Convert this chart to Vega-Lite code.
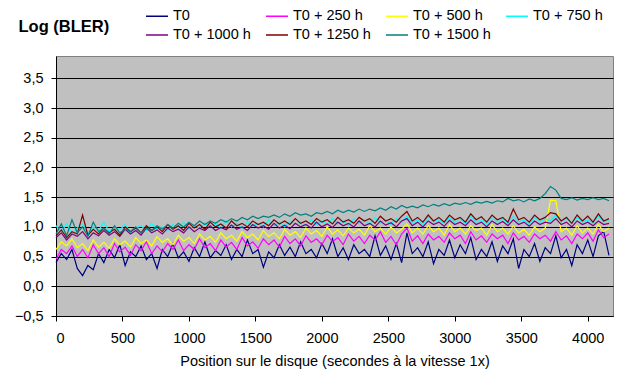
{
  "$schema": "https://vega.github.io/schema/vega-lite/v6.json",
  "width": 557,
  "height": 260,
  "autosize": "none",
  "padding": {"left": 56, "top": 56, "right": 13, "bottom": 58},
  "background": "white",
  "config": {
    "font": "Liberation Sans",
    "view": {"fill": "#C0C0C0", "stroke": "#808080", "strokeWidth": 1},
    "legend": {
      "orient": "none",
      "direction": "horizontal",
      "legendX": 89,
      "legendY": -52,
      "columns": 4,
      "gridAlign": "all",
      "symbolType": "stroke",
      "symbolSize": 484,
      "symbolStrokeWidth": 1.5,
      "labelFont": "Liberation Sans",
      "labelFontSize": 14.5,
      "labelColor": "black",
      "labelOffset": 4,
      "columnPadding": 12,
      "rowPadding": -2,
      "padding": 0
    }
  },
  "datasets": {
    "T0": [
      {"x":0,"y":0.40},{"x":40,"y":0.55},{"x":80,"y":0.45},{"x":120,"y":0.62},{"x":160,"y":0.30},{"x":200,"y":0.18},{"x":240,"y":0.35},{"x":280,"y":0.28},{"x":320,"y":0.55},{"x":360,"y":0.40},
      {"x":400,"y":0.62},{"x":440,"y":0.48},{"x":480,"y":0.70},{"x":520,"y":0.35},{"x":560,"y":0.58},{"x":600,"y":0.50},{"x":640,"y":0.68},{"x":680,"y":0.45},{"x":720,"y":0.55},{"x":760,"y":0.30},
      {"x":800,"y":0.62},{"x":840,"y":0.50},{"x":880,"y":0.72},{"x":920,"y":0.48},{"x":960,"y":0.58},{"x":1000,"y":0.42},{"x":1040,"y":0.65},{"x":1080,"y":0.50},{"x":1120,"y":0.75},{"x":1160,"y":0.48},
      {"x":1200,"y":0.60},{"x":1240,"y":0.52},{"x":1280,"y":0.70},{"x":1320,"y":0.45},{"x":1360,"y":0.62},{"x":1400,"y":0.50},{"x":1440,"y":0.78},{"x":1480,"y":0.55},{"x":1520,"y":0.62},{"x":1560,"y":0.32},
      {"x":1600,"y":0.58},{"x":1640,"y":0.48},{"x":1680,"y":0.70},{"x":1720,"y":0.52},{"x":1760,"y":0.66},{"x":1800,"y":0.50},{"x":1840,"y":0.75},{"x":1880,"y":0.55},{"x":1920,"y":0.62},{"x":1960,"y":0.48},
      {"x":2000,"y":0.72},{"x":2040,"y":0.55},{"x":2080,"y":0.80},{"x":2120,"y":0.50},{"x":2160,"y":0.65},{"x":2200,"y":0.45},{"x":2240,"y":0.70},{"x":2280,"y":0.55},{"x":2320,"y":0.62},{"x":2360,"y":0.50},
      {"x":2400,"y":0.85},{"x":2440,"y":0.52},{"x":2480,"y":0.68},{"x":2520,"y":0.45},{"x":2560,"y":0.72},{"x":2600,"y":0.40},{"x":2640,"y":0.90},{"x":2680,"y":0.55},{"x":2720,"y":0.65},{"x":2760,"y":0.50},
      {"x":2800,"y":0.75},{"x":2840,"y":0.38},{"x":2880,"y":0.62},{"x":2920,"y":0.52},{"x":2960,"y":0.78},{"x":3000,"y":0.48},{"x":3040,"y":0.70},{"x":3080,"y":0.55},{"x":3120,"y":0.82},{"x":3160,"y":0.45},
      {"x":3200,"y":0.62},{"x":3240,"y":0.50},{"x":3280,"y":0.75},{"x":3320,"y":0.42},{"x":3360,"y":0.68},{"x":3400,"y":0.55},{"x":3440,"y":0.80},{"x":3480,"y":0.30},{"x":3520,"y":0.62},{"x":3560,"y":0.50},
      {"x":3600,"y":0.72},{"x":3640,"y":0.42},{"x":3680,"y":0.65},{"x":3720,"y":0.55},{"x":3760,"y":0.85},{"x":3800,"y":0.48},{"x":3840,"y":0.62},{"x":3880,"y":0.35},{"x":3920,"y":0.70},{"x":3960,"y":0.55},
      {"x":4000,"y":0.78},{"x":4040,"y":0.50},{"x":4080,"y":0.85},{"x":4120,"y":0.92},{"x":4160,"y":0.52}
    ],
    "T250": [
      {"x":0,"y":0.45},{"x":40,"y":0.62},{"x":80,"y":0.55},{"x":120,"y":0.68},{"x":160,"y":0.50},{"x":200,"y":0.62},{"x":240,"y":0.48},{"x":280,"y":0.70},{"x":320,"y":0.55},{"x":360,"y":0.65},
      {"x":400,"y":0.50},{"x":440,"y":0.72},{"x":480,"y":0.58},{"x":520,"y":0.66},{"x":560,"y":0.52},{"x":600,"y":0.70},{"x":640,"y":0.60},{"x":680,"y":0.75},{"x":720,"y":0.55},{"x":760,"y":0.68},
      {"x":800,"y":0.58},{"x":840,"y":0.72},{"x":880,"y":0.62},{"x":920,"y":0.78},{"x":960,"y":0.60},{"x":1000,"y":0.70},{"x":1040,"y":0.62},{"x":1080,"y":0.80},{"x":1120,"y":0.65},{"x":1160,"y":0.72},
      {"x":1200,"y":0.60},{"x":1240,"y":0.78},{"x":1280,"y":0.66},{"x":1320,"y":0.74},{"x":1360,"y":0.62},{"x":1400,"y":0.82},{"x":1440,"y":0.68},{"x":1480,"y":0.75},{"x":1520,"y":0.64},{"x":1560,"y":0.80},
      {"x":1600,"y":0.70},{"x":1640,"y":0.78},{"x":1680,"y":0.66},{"x":1720,"y":0.84},{"x":1760,"y":0.72},{"x":1800,"y":0.80},{"x":1840,"y":0.68},{"x":1880,"y":0.85},{"x":1920,"y":0.74},{"x":1960,"y":0.80},
      {"x":2000,"y":0.70},{"x":2040,"y":0.86},{"x":2080,"y":0.75},{"x":2120,"y":0.82},{"x":2160,"y":0.70},{"x":2200,"y":0.88},{"x":2240,"y":0.76},{"x":2280,"y":0.84},{"x":2320,"y":0.72},{"x":2360,"y":0.86},
      {"x":2400,"y":0.78},{"x":2440,"y":0.92},{"x":2480,"y":0.74},{"x":2520,"y":0.84},{"x":2560,"y":0.70},{"x":2600,"y":0.88},{"x":2640,"y":0.98},{"x":2680,"y":0.76},{"x":2720,"y":0.85},{"x":2760,"y":0.72},
      {"x":2800,"y":0.88},{"x":2840,"y":0.78},{"x":2880,"y":0.84},{"x":2920,"y":0.74},{"x":2960,"y":0.90},{"x":3000,"y":0.80},{"x":3040,"y":0.86},{"x":3080,"y":0.72},{"x":3120,"y":0.92},{"x":3160,"y":0.78},
      {"x":3200,"y":0.85},{"x":3240,"y":0.74},{"x":3280,"y":0.88},{"x":3320,"y":0.80},{"x":3360,"y":0.86},{"x":3400,"y":0.72},{"x":3440,"y":0.90},{"x":3480,"y":0.78},{"x":3520,"y":0.84},{"x":3560,"y":0.74},
      {"x":3600,"y":0.88},{"x":3640,"y":0.80},{"x":3680,"y":0.86},{"x":3720,"y":0.76},{"x":3760,"y":0.92},{"x":3800,"y":0.78},{"x":3840,"y":0.85},{"x":3880,"y":0.72},{"x":3920,"y":0.88},{"x":3960,"y":0.80},
      {"x":4000,"y":0.90},{"x":4040,"y":0.76},{"x":4080,"y":0.95},{"x":4120,"y":0.82},{"x":4160,"y":0.88}
    ],
    "T500": [
      {"x":0,"y":0.62},{"x":40,"y":0.75},{"x":80,"y":0.68},{"x":120,"y":0.80},{"x":160,"y":0.65},{"x":200,"y":0.72},{"x":240,"y":0.60},{"x":280,"y":0.78},{"x":320,"y":0.66},{"x":360,"y":0.74},
      {"x":400,"y":0.64},{"x":440,"y":0.80},{"x":480,"y":0.70},{"x":520,"y":0.76},{"x":560,"y":0.66},{"x":600,"y":0.82},{"x":640,"y":0.72},{"x":680,"y":0.78},{"x":720,"y":0.68},{"x":760,"y":0.84},
      {"x":800,"y":0.74},{"x":840,"y":0.80},{"x":880,"y":0.70},{"x":920,"y":0.86},{"x":960,"y":0.76},{"x":1000,"y":0.82},{"x":1040,"y":0.72},{"x":1080,"y":0.88},{"x":1120,"y":0.78},{"x":1160,"y":0.84},
      {"x":1200,"y":0.74},{"x":1240,"y":0.90},{"x":1280,"y":0.80},{"x":1320,"y":0.86},{"x":1360,"y":0.76},{"x":1400,"y":0.92},{"x":1440,"y":0.82},{"x":1480,"y":0.88},{"x":1520,"y":0.78},{"x":1560,"y":0.94},
      {"x":1600,"y":0.84},{"x":1640,"y":0.90},{"x":1680,"y":0.80},{"x":1720,"y":0.96},{"x":1760,"y":0.86},{"x":1800,"y":0.92},{"x":1840,"y":0.82},{"x":1880,"y":0.98},{"x":1920,"y":0.88},{"x":1960,"y":0.94},
      {"x":2000,"y":0.84},{"x":2040,"y":1.00},{"x":2080,"y":0.88},{"x":2120,"y":0.95},{"x":2160,"y":0.85},{"x":2200,"y":0.98},{"x":2240,"y":0.90},{"x":2280,"y":0.96},{"x":2320,"y":0.86},{"x":2360,"y":1.02},
      {"x":2400,"y":0.92},{"x":2440,"y":0.98},{"x":2480,"y":0.88},{"x":2520,"y":1.00},{"x":2560,"y":0.90},{"x":2600,"y":0.96},{"x":2640,"y":1.05},{"x":2680,"y":0.90},{"x":2720,"y":0.98},{"x":2760,"y":0.88},
      {"x":2800,"y":1.02},{"x":2840,"y":0.92},{"x":2880,"y":0.98},{"x":2920,"y":0.86},{"x":2960,"y":1.04},{"x":3000,"y":0.92},{"x":3040,"y":0.98},{"x":3080,"y":0.88},{"x":3120,"y":1.02},{"x":3160,"y":0.94},
      {"x":3200,"y":0.98},{"x":3240,"y":0.86},{"x":3280,"y":1.04},{"x":3320,"y":0.92},{"x":3360,"y":0.98},{"x":3400,"y":0.88},{"x":3440,"y":1.02},{"x":3480,"y":0.90},{"x":3520,"y":0.96},{"x":3560,"y":0.86},
      {"x":3600,"y":1.00},{"x":3640,"y":0.92},{"x":3680,"y":0.98},{"x":3720,"y":1.45},{"x":3760,"y":1.44},{"x":3800,"y":0.92},{"x":3840,"y":0.98},{"x":3880,"y":0.86},{"x":3920,"y":1.02},{"x":3960,"y":0.90},
      {"x":4000,"y":0.98},{"x":4040,"y":0.88},{"x":4080,"y":1.04},{"x":4120,"y":0.92},{"x":4160,"y":0.98}
    ],
    "T750": [
      {"x":0,"y":1.02},{"x":40,"y":0.92},{"x":80,"y":1.05},{"x":120,"y":0.88},{"x":160,"y":0.98},{"x":200,"y":1.06},{"x":240,"y":0.90},{"x":280,"y":1.00},{"x":320,"y":0.94},{"x":360,"y":1.08},
      {"x":400,"y":0.92},{"x":440,"y":1.00},{"x":480,"y":0.95},{"x":520,"y":1.04},{"x":560,"y":0.90},{"x":600,"y":0.98},{"x":640,"y":1.02},{"x":680,"y":0.94},{"x":720,"y":1.06},{"x":760,"y":0.96},
      {"x":800,"y":1.00},{"x":840,"y":0.94},{"x":880,"y":1.04},{"x":920,"y":0.98},{"x":960,"y":1.08},{"x":1000,"y":0.96},{"x":1040,"y":1.02},{"x":1080,"y":0.98},{"x":1120,"y":1.06},{"x":1160,"y":1.00},
      {"x":1200,"y":1.04},{"x":1240,"y":0.98},{"x":1280,"y":1.10},{"x":1320,"y":1.00},{"x":1360,"y":1.06},{"x":1400,"y":0.98},{"x":1440,"y":1.08},{"x":1480,"y":1.02},{"x":1520,"y":1.06},{"x":1560,"y":1.00},
      {"x":1600,"y":1.12},{"x":1640,"y":1.02},{"x":1680,"y":1.08},{"x":1720,"y":1.00},{"x":1760,"y":1.10},{"x":1800,"y":1.04},{"x":1840,"y":1.08},{"x":1880,"y":1.02},{"x":1920,"y":1.12},{"x":1960,"y":1.04},
      {"x":2000,"y":1.10},{"x":2040,"y":1.04},{"x":2080,"y":1.14},{"x":2120,"y":1.06},{"x":2160,"y":1.10},{"x":2200,"y":1.02},{"x":2240,"y":1.14},{"x":2280,"y":1.06},{"x":2320,"y":1.12},{"x":2360,"y":1.04},
      {"x":2400,"y":1.16},{"x":2440,"y":1.06},{"x":2480,"y":1.12},{"x":2520,"y":1.04},{"x":2560,"y":1.14},{"x":2600,"y":1.08},{"x":2640,"y":1.18},{"x":2680,"y":1.06},{"x":2720,"y":1.12},{"x":2760,"y":1.04},
      {"x":2800,"y":1.16},{"x":2840,"y":1.08},{"x":2880,"y":1.12},{"x":2920,"y":1.06},{"x":2960,"y":1.16},{"x":3000,"y":1.08},{"x":3040,"y":1.14},{"x":3080,"y":1.06},{"x":3120,"y":1.18},{"x":3160,"y":1.08},
      {"x":3200,"y":1.12},{"x":3240,"y":1.04},{"x":3280,"y":1.16},{"x":3320,"y":1.08},{"x":3360,"y":1.14},{"x":3400,"y":1.06},{"x":3440,"y":1.18},{"x":3480,"y":1.08},{"x":3520,"y":1.12},{"x":3560,"y":1.04},
      {"x":3600,"y":1.16},{"x":3640,"y":1.08},{"x":3680,"y":1.14},{"x":3720,"y":1.10},{"x":3760,"y":1.20},{"x":3800,"y":1.08},{"x":3840,"y":1.14},{"x":3880,"y":1.06},{"x":3920,"y":1.16},{"x":3960,"y":1.08},
      {"x":4000,"y":1.12},{"x":4040,"y":1.06},{"x":4080,"y":1.18},{"x":4120,"y":1.08},{"x":4160,"y":1.12}
    ],
    "T1000": [
      {"x":0,"y":0.82},{"x":40,"y":0.90},{"x":80,"y":0.78},{"x":120,"y":0.88},{"x":160,"y":0.84},{"x":200,"y":0.92},{"x":240,"y":0.80},{"x":280,"y":0.90},{"x":320,"y":0.85},{"x":360,"y":0.94},
      {"x":400,"y":0.86},{"x":440,"y":0.92},{"x":480,"y":0.84},{"x":520,"y":0.96},{"x":560,"y":0.88},{"x":600,"y":0.94},{"x":640,"y":0.86},{"x":680,"y":0.98},{"x":720,"y":0.90},{"x":760,"y":0.95},
      {"x":800,"y":0.88},{"x":840,"y":0.98},{"x":880,"y":0.92},{"x":920,"y":0.96},{"x":960,"y":0.90},{"x":1000,"y":1.00},{"x":1040,"y":0.92},{"x":1080,"y":0.98},{"x":1120,"y":0.94},{"x":1160,"y":1.02},
      {"x":1200,"y":0.94},{"x":1240,"y":0.99},{"x":1280,"y":0.95},{"x":1320,"y":1.03},{"x":1360,"y":0.96},{"x":1400,"y":1.00},{"x":1440,"y":0.94},{"x":1480,"y":1.04},{"x":1520,"y":0.98},{"x":1560,"y":1.02},
      {"x":1600,"y":0.96},{"x":1640,"y":1.06},{"x":1680,"y":0.98},{"x":1720,"y":1.03},{"x":1760,"y":0.97},{"x":1800,"y":1.06},{"x":1840,"y":1.00},{"x":1880,"y":1.04},{"x":1920,"y":0.98},{"x":1960,"y":1.08},
      {"x":2000,"y":1.00},{"x":2040,"y":1.05},{"x":2080,"y":0.99},{"x":2120,"y":1.08},{"x":2160,"y":1.02},{"x":2200,"y":1.06},{"x":2240,"y":1.00},{"x":2280,"y":1.10},{"x":2320,"y":1.02},{"x":2360,"y":1.06},
      {"x":2400,"y":1.00},{"x":2440,"y":1.10},{"x":2480,"y":1.03},{"x":2520,"y":1.07},{"x":2560,"y":1.00},{"x":2600,"y":1.10},{"x":2640,"y":1.14},{"x":2680,"y":1.02},{"x":2720,"y":1.08},{"x":2760,"y":1.00},
      {"x":2800,"y":1.10},{"x":2840,"y":1.04},{"x":2880,"y":1.08},{"x":2920,"y":1.01},{"x":2960,"y":1.11},{"x":3000,"y":1.04},{"x":3040,"y":1.08},{"x":3080,"y":1.02},{"x":3120,"y":1.12},{"x":3160,"y":1.04},
      {"x":3200,"y":1.08},{"x":3240,"y":1.00},{"x":3280,"y":1.10},{"x":3320,"y":1.04},{"x":3360,"y":1.09},{"x":3400,"y":1.02},{"x":3440,"y":1.12},{"x":3480,"y":1.04},{"x":3520,"y":1.08},{"x":3560,"y":1.01},
      {"x":3600,"y":1.10},{"x":3640,"y":1.04},{"x":3680,"y":1.08},{"x":3720,"y":1.06},{"x":3760,"y":1.14},{"x":3800,"y":1.04},{"x":3840,"y":1.08},{"x":3880,"y":1.00},{"x":3920,"y":1.10},{"x":3960,"y":1.04},
      {"x":4000,"y":1.08},{"x":4040,"y":1.02},{"x":4080,"y":1.10},{"x":4120,"y":1.04},{"x":4160,"y":1.06}
    ],
    "T1250": [
      {"x":0,"y":0.85},{"x":40,"y":0.95},{"x":80,"y":0.82},{"x":120,"y":0.92},{"x":160,"y":0.88},{"x":200,"y":1.20},{"x":240,"y":0.86},{"x":280,"y":0.96},{"x":320,"y":0.88},{"x":360,"y":0.98},
      {"x":400,"y":0.90},{"x":440,"y":0.96},{"x":480,"y":0.86},{"x":520,"y":1.00},{"x":560,"y":0.92},{"x":600,"y":0.98},{"x":640,"y":0.90},{"x":680,"y":1.02},{"x":720,"y":0.94},{"x":760,"y":1.00},
      {"x":800,"y":0.92},{"x":840,"y":1.04},{"x":880,"y":0.96},{"x":920,"y":1.02},{"x":960,"y":0.94},{"x":1000,"y":1.06},{"x":1040,"y":0.98},{"x":1080,"y":1.04},{"x":1120,"y":0.96},{"x":1160,"y":1.08},
      {"x":1200,"y":1.00},{"x":1240,"y":1.05},{"x":1280,"y":0.98},{"x":1320,"y":1.10},{"x":1360,"y":1.02},{"x":1400,"y":1.06},{"x":1440,"y":1.00},{"x":1480,"y":1.10},{"x":1520,"y":1.04},{"x":1560,"y":1.08},
      {"x":1600,"y":1.02},{"x":1640,"y":1.12},{"x":1680,"y":1.05},{"x":1720,"y":1.10},{"x":1760,"y":1.04},{"x":1800,"y":1.14},{"x":1840,"y":1.06},{"x":1880,"y":1.10},{"x":1920,"y":1.04},{"x":1960,"y":1.14},
      {"x":2000,"y":1.08},{"x":2040,"y":1.12},{"x":2080,"y":1.05},{"x":2120,"y":1.16},{"x":2160,"y":1.08},{"x":2200,"y":1.12},{"x":2240,"y":1.06},{"x":2280,"y":1.16},{"x":2320,"y":1.10},{"x":2360,"y":1.14},
      {"x":2400,"y":1.06},{"x":2440,"y":1.18},{"x":2480,"y":1.10},{"x":2520,"y":1.14},{"x":2560,"y":1.08},{"x":2600,"y":1.18},{"x":2640,"y":1.26},{"x":2680,"y":1.10},{"x":2720,"y":1.16},{"x":2760,"y":1.08},
      {"x":2800,"y":1.20},{"x":2840,"y":1.10},{"x":2880,"y":1.16},{"x":2920,"y":1.08},{"x":2960,"y":1.20},{"x":3000,"y":1.12},{"x":3040,"y":1.16},{"x":3080,"y":1.08},{"x":3120,"y":1.22},{"x":3160,"y":1.12},
      {"x":3200,"y":1.17},{"x":3240,"y":1.08},{"x":3280,"y":1.20},{"x":3320,"y":1.12},{"x":3360,"y":1.16},{"x":3400,"y":1.08},{"x":3440,"y":1.30},{"x":3480,"y":1.12},{"x":3520,"y":1.16},{"x":3560,"y":1.08},
      {"x":3600,"y":1.20},{"x":3640,"y":1.12},{"x":3680,"y":1.16},{"x":3720,"y":1.24},{"x":3760,"y":1.22},{"x":3800,"y":1.10},{"x":3840,"y":1.16},{"x":3880,"y":1.06},{"x":3920,"y":1.20},{"x":3960,"y":1.10},
      {"x":4000,"y":1.18},{"x":4040,"y":1.08},{"x":4080,"y":1.22},{"x":4120,"y":1.10},{"x":4160,"y":1.14}
    ],
    "T1500": [
      {"x":0,"y":0.88},{"x":40,"y":1.05},{"x":80,"y":0.85},{"x":120,"y":1.12},{"x":160,"y":0.90},{"x":200,"y":1.00},{"x":240,"y":0.84},{"x":280,"y":1.08},{"x":320,"y":0.92},{"x":360,"y":0.98},
      {"x":400,"y":0.88},{"x":440,"y":1.02},{"x":480,"y":0.90},{"x":520,"y":0.96},{"x":560,"y":0.92},{"x":600,"y":1.00},{"x":640,"y":0.90},{"x":680,"y":0.98},{"x":720,"y":0.94},{"x":760,"y":1.02},
      {"x":800,"y":0.96},{"x":840,"y":1.04},{"x":880,"y":0.98},{"x":920,"y":1.06},{"x":960,"y":1.00},{"x":1000,"y":1.08},{"x":1040,"y":1.02},{"x":1080,"y":1.10},{"x":1120,"y":1.04},{"x":1160,"y":1.10},
      {"x":1200,"y":1.06},{"x":1240,"y":1.12},{"x":1280,"y":1.08},{"x":1320,"y":1.14},{"x":1360,"y":1.10},{"x":1400,"y":1.16},{"x":1440,"y":1.12},{"x":1480,"y":1.18},{"x":1520,"y":1.14},{"x":1560,"y":1.18},
      {"x":1600,"y":1.16},{"x":1640,"y":1.20},{"x":1680,"y":1.16},{"x":1720,"y":1.22},{"x":1760,"y":1.18},{"x":1800,"y":1.24},{"x":1840,"y":1.20},{"x":1880,"y":1.22},{"x":1920,"y":1.18},{"x":1960,"y":1.24},
      {"x":2000,"y":1.22},{"x":2040,"y":1.26},{"x":2080,"y":1.22},{"x":2120,"y":1.28},{"x":2160,"y":1.24},{"x":2200,"y":1.28},{"x":2240,"y":1.25},{"x":2280,"y":1.30},{"x":2320,"y":1.26},{"x":2360,"y":1.30},
      {"x":2400,"y":1.27},{"x":2440,"y":1.32},{"x":2480,"y":1.28},{"x":2520,"y":1.34},{"x":2560,"y":1.30},{"x":2600,"y":1.36},{"x":2640,"y":1.32},{"x":2680,"y":1.35},{"x":2720,"y":1.32},{"x":2760,"y":1.37},
      {"x":2800,"y":1.34},{"x":2840,"y":1.38},{"x":2880,"y":1.35},{"x":2920,"y":1.39},{"x":2960,"y":1.36},{"x":3000,"y":1.40},{"x":3040,"y":1.38},{"x":3080,"y":1.41},{"x":3120,"y":1.38},{"x":3160,"y":1.42},
      {"x":3200,"y":1.40},{"x":3240,"y":1.43},{"x":3280,"y":1.40},{"x":3320,"y":1.44},{"x":3360,"y":1.42},{"x":3400,"y":1.48},{"x":3440,"y":1.44},{"x":3480,"y":1.46},{"x":3520,"y":1.42},{"x":3560,"y":1.47},
      {"x":3600,"y":1.44},{"x":3640,"y":1.48},{"x":3680,"y":1.56},{"x":3720,"y":1.68},{"x":3760,"y":1.62},{"x":3800,"y":1.48},{"x":3840,"y":1.46},{"x":3880,"y":1.49},{"x":3920,"y":1.45},{"x":3960,"y":1.48},
      {"x":4000,"y":1.46},{"x":4040,"y":1.49},{"x":4080,"y":1.46},{"x":4120,"y":1.48},{"x":4160,"y":1.44}
    ]
  },
  "encoding": {
    "x": {
      "field": "x",
      "type": "quantitative",
      "scale": {"domain": [0, 4190], "nice": false, "zero": false},
      "axis": {
        "title": "Position sur le disque (secondes à la vitesse 1x)",
        "values": [0, 500, 1000, 1500, 2000, 2500, 3000, 3500, 4000],
        "format": "d",
        "grid": false,
        "domainColor": "black",
        "tickColor": "black",
        "tickSize": 5,
        "labelPadding": 10,
        "labelFontSize": 14.5,
        "labelColor": "black",
        "titleFontSize": 14.5,
        "titleFontWeight": "normal",
        "titleColor": "black",
        "titlePadding": 10
      }
    },
    "y": {
      "field": "y",
      "type": "quantitative",
      "scale": {"domain": [-0.5, 3.877], "nice": false, "zero": false},
      "axis": {
        "values": [-0.5, 0, 0.5, 1, 1.5, 2, 2.5, 3, 3.5],
        "labelExpr": "replace(format(datum.value, '.1f'), '.', ',')",
        "grid": true,
        "gridColor": "black",
        "gridWidth": 1,
        "domainColor": "black",
        "tickColor": "black",
        "tickSize": 5,
        "labelPadding": 8,
        "labelFontSize": 14.5,
        "labelColor": "black",
        "title": "Log (BLER)",
        "titleAngle": 0,
        "titleAlign": "left",
        "titleBaseline": "middle",
        "titleX": -38,
        "titleY": -30,
        "titleFontSize": 16.5,
        "titleFontWeight": "bold",
        "titleColor": "black"
      }
    }
  },
  "layer": [
    {"data": {"name": "T0"}, "mark": {"type": "line", "strokeWidth": 1.2}, "encoding": {"color": {"datum": "T0", "type": "nominal", "scale": {"domain": ["T0", "T0 + 250 h", "T0 + 500 h", "T0 + 750 h", "T0 + 1000 h", "T0 + 1250 h", "T0 + 1500 h"], "range": ["#000080", "#FF00FF", "#FFFF00", "#00FFFF", "#800080", "#800000", "#008080"]}, "legend": {"title": null}}}},
    {"data": {"name": "T250"}, "mark": {"type": "line", "strokeWidth": 1.2}, "encoding": {"color": {"datum": "T0 + 250 h", "type": "nominal"}}},
    {"data": {"name": "T500"}, "mark": {"type": "line", "strokeWidth": 1.2}, "encoding": {"color": {"datum": "T0 + 500 h", "type": "nominal"}}},
    {"data": {"name": "T750"}, "mark": {"type": "line", "strokeWidth": 1.2}, "encoding": {"color": {"datum": "T0 + 750 h", "type": "nominal"}}},
    {"data": {"name": "T1000"}, "mark": {"type": "line", "strokeWidth": 1.2}, "encoding": {"color": {"datum": "T0 + 1000 h", "type": "nominal"}}},
    {"data": {"name": "T1250"}, "mark": {"type": "line", "strokeWidth": 1.2}, "encoding": {"color": {"datum": "T0 + 1250 h", "type": "nominal"}}},
    {"data": {"name": "T1500"}, "mark": {"type": "line", "strokeWidth": 1.2}, "encoding": {"color": {"datum": "T0 + 1500 h", "type": "nominal"}}}
  ]
}
